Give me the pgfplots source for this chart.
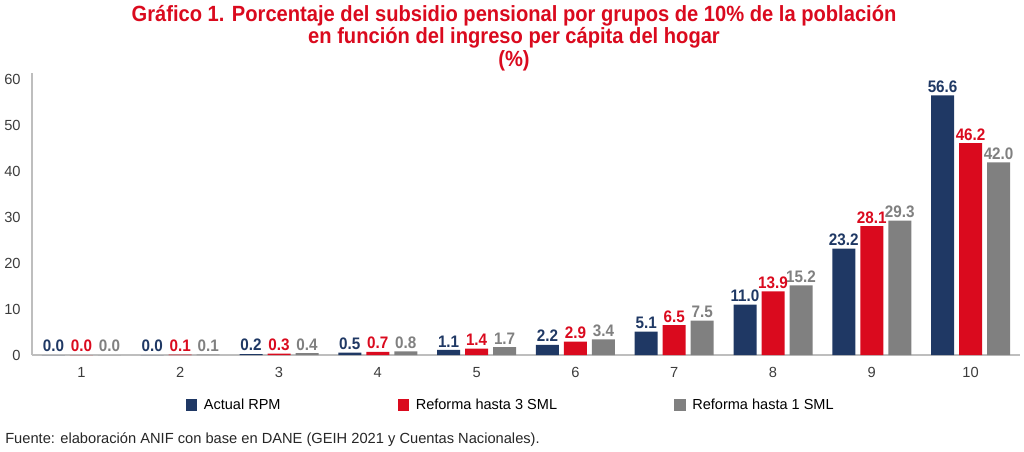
\documentclass[border=0pt]{standalone}
\usepackage{pgfplots}
\pgfplotsset{compat=1.18}
\usepackage{fontspec}
\setmainfont{Liberation Sans}
\newfontfamily\titlefont[FakeStretch=0.915]{Liberation Sans}
\definecolor{navy}{RGB}{31,56,100}
\definecolor{rojo}{RGB}{218,10,30}
\definecolor{gris}{RGB}{128,128,128}
\definecolor{axisgray}{RGB}{190,190,190}
\definecolor{tickgray}{RGB}{60,60,60}
\begin{document}
\begin{tikzpicture}[x=0.75pt,y=0.75pt]
\useasboundingbox (0,0) rectangle (1024,451);
\node[anchor=north, align=center, text=rojo, font=\titlefont\bfseries\fontsize{16.5}{16.8}\selectfont, inner sep=0pt] at (514,446)
 {Gráfico 1. Porcentaje del subsidio pensional por grupos de 10\% de la población\\en función del ingreso per cápita del hogar\\(\%)};
\begin{axis}[
  at={(24pt,72pt)}, anchor=south west,
  scale only axis, width=741pt, height=211.5pt,
  xmin=0.5, xmax=10.5, ymin=0, ymax=61.5,
  axis x line*=bottom, axis y line*=left,
  axis line style={axisgray, line width=0.9pt},
  xtick={1,...,10}, ytick={0,10,...,60},
  major tick length=0pt,
  ticklabel style={font=\fontsize{11}{13}\selectfont, text=tickgray},
  /pgf/number format/assume math mode=true,
  yticklabel style={xshift=-5pt},
  xticklabel style={yshift=-6pt},
  ybar, bar width=17.25pt,
  enlarge x limits=false,
  nodes near coords,
  nodes near coords style={font=\titlefont\bfseries\fontsize{12.5}{14}\selectfont, /pgf/number format/fixed, /pgf/number format/precision=1, /pgf/number format/fixed zerofill, /pgf/number format/assume math mode=true, inner sep=2pt},
  legend columns=3,
  legend style={draw=none, fill=none, at={(0.485,-0.177)}, anchor=center, font=\fontsize{10.9}{13}\selectfont, /tikz/every odd column/.append style={column sep=3pt}, /tikz/every even column/.append style={column sep=86pt}},
  legend image code/.code={\fill[#1] (0pt,-4.2pt) rectangle (8.4pt,4.2pt);},
  clip=false,
]
\addplot[fill=navy, draw=none, bar shift=-21pt, every node near coord/.append style={text=navy}] coordinates {(1,0.0) (2,0.0) (3,0.2) (4,0.5) (5,1.1) (6,2.2) (7,5.1) (8,11.0) (9,23.2) (10,56.6)};
\addplot[fill=rojo, draw=none, bar shift=0pt, every node near coord/.append style={text=rojo}] coordinates {(1,0.0) (2,0.1) (3,0.3) (4,0.7) (5,1.4) (6,2.9) (7,6.5) (8,13.9) (9,28.1) (10,46.2)};
\addplot[fill=gris, draw=none, bar shift=21pt, every node near coord/.append style={text=gris}] coordinates {(1,0.0) (2,0.1) (3,0.4) (4,0.8) (5,1.7) (6,3.4) (7,7.5) (8,15.2) (9,29.3) (10,42.0)};
\legend{Actual RPM, Reforma hasta 3 SML, Reforma hasta 1 SML}
\end{axis}
\node[anchor=west, inner sep=0pt, font=\fontsize{11}{13}\selectfont, text=black!85] at (5,11) {Fuente: elaboración ANIF con base en DANE (GEIH 2021 y Cuentas Nacionales).};
\end{tikzpicture}
\end{document}
